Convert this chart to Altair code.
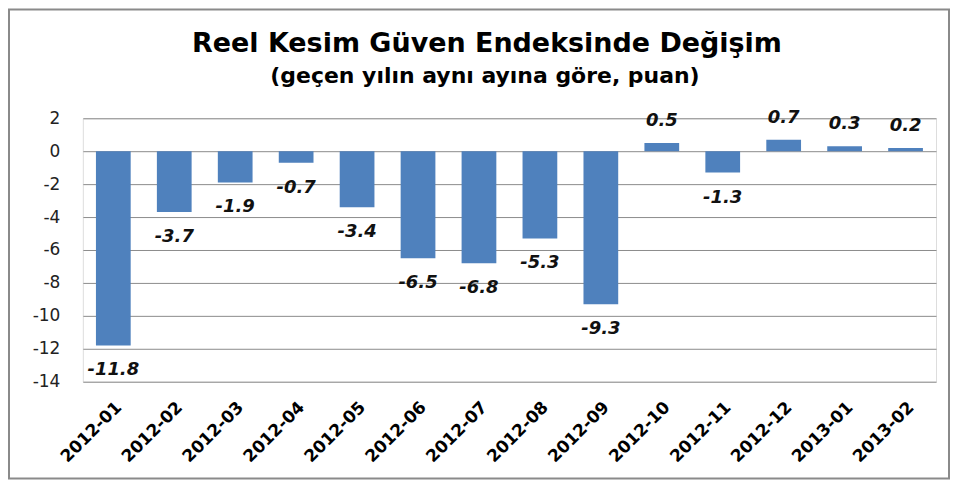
import altair as alt
import pandas as pd

months = ["2012-01", "2012-02", "2012-03", "2012-04", "2012-05", "2012-06", "2012-07",
          "2012-08", "2012-09", "2012-10", "2012-11", "2012-12", "2013-01", "2013-02"]
values = [-11.8, -3.7, -1.9, -0.7, -3.4, -6.5, -6.8, -5.3, -9.3, 0.5, -1.3, 0.7, 0.3, 0.2]
y_ticks = [2, 0, -2, -4, -6, -8, -10, -12, -14]
title_text = "Reel Kesim Güven Endeksinde Değişim"
subtitle_text = "(geçen yılın aynı ayına göre, puan)"

df = pd.DataFrame({"month": months, "value": values})
df["label"] = [f"{v:.1f}" for v in values]

FONT = "DejaVu Sans"

x = alt.X("month:N", sort=months, title=None,
          scale=alt.Scale(paddingInner=0.43, paddingOuter=0.215),
          axis=alt.Axis(labelAngle=-45, labelFontSize=17, labelFont=FONT, labelFontWeight="bold",
                        labelColor="#000000", ticks=False, domain=False, labelPadding=17,
                        labelOverlap=False))
y = alt.Y("value:Q", title=None,
          scale=alt.Scale(domain=[-14, 2], nice=False),
          axis=alt.Axis(values=y_ticks, tickCount=len(y_ticks), labelFontSize=17, labelFont=FONT,
                        labelColor="#222222", ticks=False, domain=False, labelPadding=23,
                        labelOverlap=False, labelExpr="toString(datum.value)",
                        gridColor="#8c8c8c", gridWidth=1))

base = alt.Chart(df)

frame = base.transform_filter("datum.month == '2012-01'").mark_rect(
    fill=None, stroke="#8a8a8a", strokeWidth=2
).encode(x=alt.value(-74), x2=alt.value(868), y=alt.value(-109), y2=alt.value(361))

bars = base.mark_bar(color="#4F81BD").encode(x=x, y=y)

text_neg = base.transform_filter("datum.value < 0").mark_text(
    font=FONT, fontSize=18, fontWeight="bold", fontStyle="italic", dy=25, color="#111111"
).encode(x=x, y=y, text="label:N")

text_pos = base.transform_filter("datum.value >= 0").mark_text(
    font=FONT, fontSize=18, fontWeight="bold", fontStyle="italic", dy=-22, color="#111111"
).encode(x=x, y=y, text="label:N")

tdf = pd.DataFrame({"t": [title_text, subtitle_text], "size": ["main", "sub"]})
title_main = alt.Chart(tdf).transform_filter("datum.size == 'main'").mark_text(
    font=FONT, fontSize=27, fontWeight="bold", color="#000000", baseline="alphabetic", align="center"
).encode(text="t:N", x=alt.value(405), y=alt.value(-66))
title_sub = alt.Chart(tdf).transform_filter("datum.size == 'sub'").mark_text(
    font=FONT, fontSize=22, fontWeight="bold", color="#000000", baseline="alphabetic", align="center"
).encode(text="t:N", x=alt.value(403), y=alt.value(-35))

chart = alt.layer(frame, bars, text_neg, text_pos, title_main, title_sub).properties(
    width=855, height=264,
    autosize=alt.AutoSizeParams(type="none"),
    padding={"left": 75, "top": 110, "right": 14, "bottom": 99}
).configure_view(stroke=None).configure(background="white")

chart.save("out.html", embed_options={"renderer": "svg", "actions": False})
